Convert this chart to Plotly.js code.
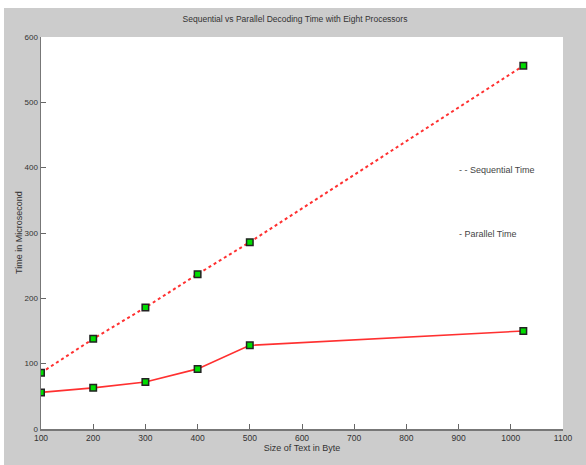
<!DOCTYPE html>
<html>
<head>
<meta charset="utf-8">
<script src="https://cdn.plot.ly/plotly-3.0.1.min.js"></script>
<style>
html,body{margin:0;padding:0;background:#ffffff;}
#chart{position:absolute;left:4px;top:8px;width:582px;height:457px;}
</style>
</head>
<body>
<div id="chart"></div>
<script>
var textSizes = [100, 200, 300, 400, 500, 1024];
var sequentialTime = [86, 138, 186, 237, 286, 556];
var parallelTime = [56, 63, 72, 92, 128, 150];
var xTicks = [100, 200, 300, 400, 500, 600, 700, 800, 900, 1000, 1100];
var yTicks = [0, 100, 200, 300, 400, 500, 600];

var fontFam = '"Liberation Sans Narrow", "Liberation Sans", Arial, sans-serif';
var markerStyle = {symbol: 'square', size: 6.5, color: '#00dd00', line: {color: '#222222', width: 1.5}};

var traces = [
  {x: textSizes, y: sequentialTime, type: 'scatter', mode: 'lines+markers', name: 'Sequential Time',
   line: {color: '#ff3030', width: 2, dash: 'dot'}, marker: markerStyle},
  {x: textSizes, y: parallelTime, type: 'scatter', mode: 'lines+markers', name: 'Parallel Time',
   line: {color: '#ff3030', width: 1.6}, marker: markerStyle}
];

var layout = {
  width: 582, height: 457,
  paper_bgcolor: '#cccccc', plot_bgcolor: '#ffffff',
  margin: {l: 37, r: 23, t: 29, b: 36},
  showlegend: false,
  font: {family: fontFam, size: 9, color: '#333333'},
  title: {text: 'Sequential vs Parallel Decoding Time with Eight Processors',
          font: {family: fontFam, size: 8.5, color: '#333333'}, x: 0.5, xanchor: 'center', y: 0.975, yanchor: 'middle'},
  xaxis: {range: [100, 1100], tickvals: xTicks, ticktext: xTicks.map(String),
          ticks: 'inside', ticklen: 5, tickcolor: '#666666', showgrid: false, zeroline: false,
          showline: true, linecolor: '#777777', linewidth: 1.5, tickfont: {size: 8.5},
          title: {text: 'Size of Text in Byte', font: {family: fontFam, size: 9, color: '#333333'}, standoff: 2}},
  yaxis: {range: [0, 600], tickvals: yTicks, ticktext: yTicks.map(String),
          ticks: 'inside', ticklen: 5, tickcolor: '#666666', showgrid: false, zeroline: false,
          showline: true, linecolor: '#777777', linewidth: 1.5, tickfont: {size: 8}},
  annotations: [
    {xref: 'paper', yref: 'paper', x: 0, xshift: -22, y: 0.5, xanchor: 'center', yanchor: 'middle', showarrow: false,
     textangle: -90, text: 'Time in Microsecond', font: {family: fontFam, size: 9, color: '#333333'}},
    {xref: 'paper', yref: 'paper', x: 0.796, y: 0.661, xanchor: 'left', yanchor: 'middle', showarrow: false,
     text: '- - Sequential Time', font: {family: fontFam, size: 9, color: '#444444'}},
    {xref: 'paper', yref: 'paper', x: 0.796, y: 0.497, xanchor: 'left', yanchor: 'middle', showarrow: false,
     text: '- Parallel Time', font: {family: fontFam, size: 9, color: '#444444'}}
  ]
};

Plotly.newPlot('chart', traces, layout, {displayModeBar: false, staticPlot: true});
</script>
</body>
</html>
